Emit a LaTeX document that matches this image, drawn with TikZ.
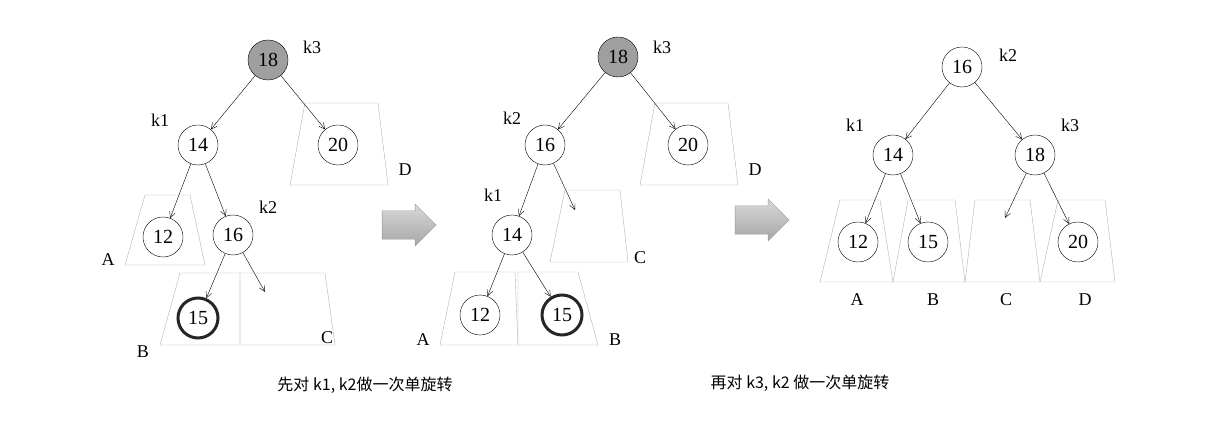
\documentclass[tikz,border=0pt]{standalone}
\usepackage{fontspec}
\setmainfont{Liberation Serif}
\newfontfamily\cjk{Noto Sans CJK SC}
\usetikzlibrary{arrows.meta,shapes.arrows}
\begin{document}
\begin{tikzpicture}[x=1pt,y=-1pt,
  nd/.style={circle,draw,minimum size=40pt,inner sep=0pt,font=\fontsize{20}{21}\selectfont},
  hot/.style={nd,fill=gray!75},
  bold/.style={nd,line width=3pt,draw=black!85},
  lab/.style={font=\fontsize{18}{19}\selectfont},
  edge/.style={-{Straight Barb[length=6pt,width=6pt]},thin},
  trap/.style={draw=gray!60,thin},
  bigarr/.style={single arrow,draw=gray!80,top color=gray!30,bottom color=gray!70,minimum height=54pt,minimum width=42pt,single arrow head extend=2pt,inner sep=4pt}]
\useasboundingbox (0,0) rectangle (1225,446);
% tree 1
\draw[trap] (305,103)--(378,103)--(388,185)--(290,185)--cycle;
\draw[trap] (145,195)--(190,195)--(205,265)--(125,265)--cycle;
\draw[trap] (180,273)--(240,273)--(240,345)--(160,345)--cycle;
\draw[trap] (240,273)--(325,273)--(335,345)--(240,345)--cycle;
\node[hot] (a18) at (268,60) {18};
\node[nd] (a14) at (198,145) {14};
\node[nd] (a20) at (338,145) {20};
\node[nd] (a12) at (163,237) {12};
\node[nd] (a16) at (233,235) {16};
\node[bold] (a15) at (198,318) {15};
\coordinate (ac) at (265,292);
\draw[edge] (a18)--(a14); \draw[edge] (a18)--(a20);
\draw[edge] (a14)--(a12); \draw[edge] (a14)--(a16);
\draw[edge] (a16)--(a15); \draw[edge] (a16)--(ac);
\node[lab] (ak3) at (312,47) {k3};
\node[lab] (ak1) at (160,120) {k1};
\node[lab] (ak2) at (268,207) {k2};
\node[lab] (aD) at (405,170) {D};
\node[lab] (aA) at (108,260) {A};
\node[lab] (aB) at (143,352) {B};
\node[lab] (aC) at (327,338) {C};
\node[bigarr] (ar1) at (402,225) {};
% tree 2
\draw[trap] (655,103)--(728,103)--(738,185)--(640,185)--cycle;
\draw[trap] (565,190)--(620,190)--(628,262)--(550,262)--cycle;
\draw[trap] (455,272)--(515,272)--(518,345)--(440,345)--cycle;
\draw[trap] (518,272)--(578,272)--(598,345)--(518,345)--cycle;
\node[hot] (b18) at (618,57) {18};
\node[nd] (b16) at (545,145) {16};
\node[nd] (b20) at (688,145) {20};
\node[nd] (b14) at (512,235) {14};
\node[nd] (b12) at (480,315) {12};
\node[bold] (b15) at (562,315) {15};
\coordinate (bc) at (575,210);
\draw[edge] (b18)--(b16); \draw[edge] (b18)--(b20);
\draw[edge] (b16)--(b14); \draw[edge] (b16)--(bc);
\draw[edge] (b14)--(b12); \draw[edge] (b14)--(b15);
\node[lab] (bk3) at (662,47) {k3};
\node[lab] (bk2) at (512,118) {k2};
\node[lab] (bk1) at (493,195) {k1};
\node[lab] (bD) at (755,170) {D};
\node[lab] (bC) at (640,258) {C};
\node[lab] (bA) at (423,340) {A};
\node[lab] (bB) at (615,340) {B};
\node[bigarr] (ar2) at (755,220) {};
% tree 3
\draw[trap] (840,200)--(880,200)--(893,282)--(820,282)--cycle;
\draw[trap] (908,200)--(955,200)--(965,282)--(893,282)--cycle;
\draw[trap] (975,200)--(1030,200)--(1040,282)--(965,282)--cycle;
\draw[trap] (1058,200)--(1105,200)--(1115,282)--(1040,282)--cycle;
\node[nd] (c16) at (962,67) {16};
\node[nd] (c14) at (893,155) {14};
\node[nd] (c18) at (1035,155) {18};
\node[nd] (c12) at (858,242) {12};
\node[nd] (c15) at (928,242) {15};
\node[nd] (c20) at (1078,242) {20};
\coordinate (cc) at (1005,218);
\draw[edge] (c16)--(c14); \draw[edge] (c16)--(c18);
\draw[edge] (c14)--(c12); \draw[edge] (c14)--(c15);
\draw[edge] (c18)--(cc); \draw[edge] (c18)--(c20);
\node[lab] (ck2) at (1008,55) {k2};
\node[lab] (ck1) at (855,125) {k1};
\node[lab] (ck3) at (1070,125) {k3};
\node[lab] (cA) at (857,300) {A};
\node[lab] (cB) at (933,300) {B};
\node[lab] (cC) at (1006,300) {C};
\node[lab] (cD) at (1085,300) {D};
% captions
\node[font=\cjk\fontsize{16}{18}\selectfont] (cap1) at (365,385) {先对 k1, k2做一次单旋转};
\node[font=\cjk\fontsize{16}{18}\selectfont] (cap2) at (800,383) {再对 k3, k2 做一次单旋转};
\end{tikzpicture}
\end{document}
